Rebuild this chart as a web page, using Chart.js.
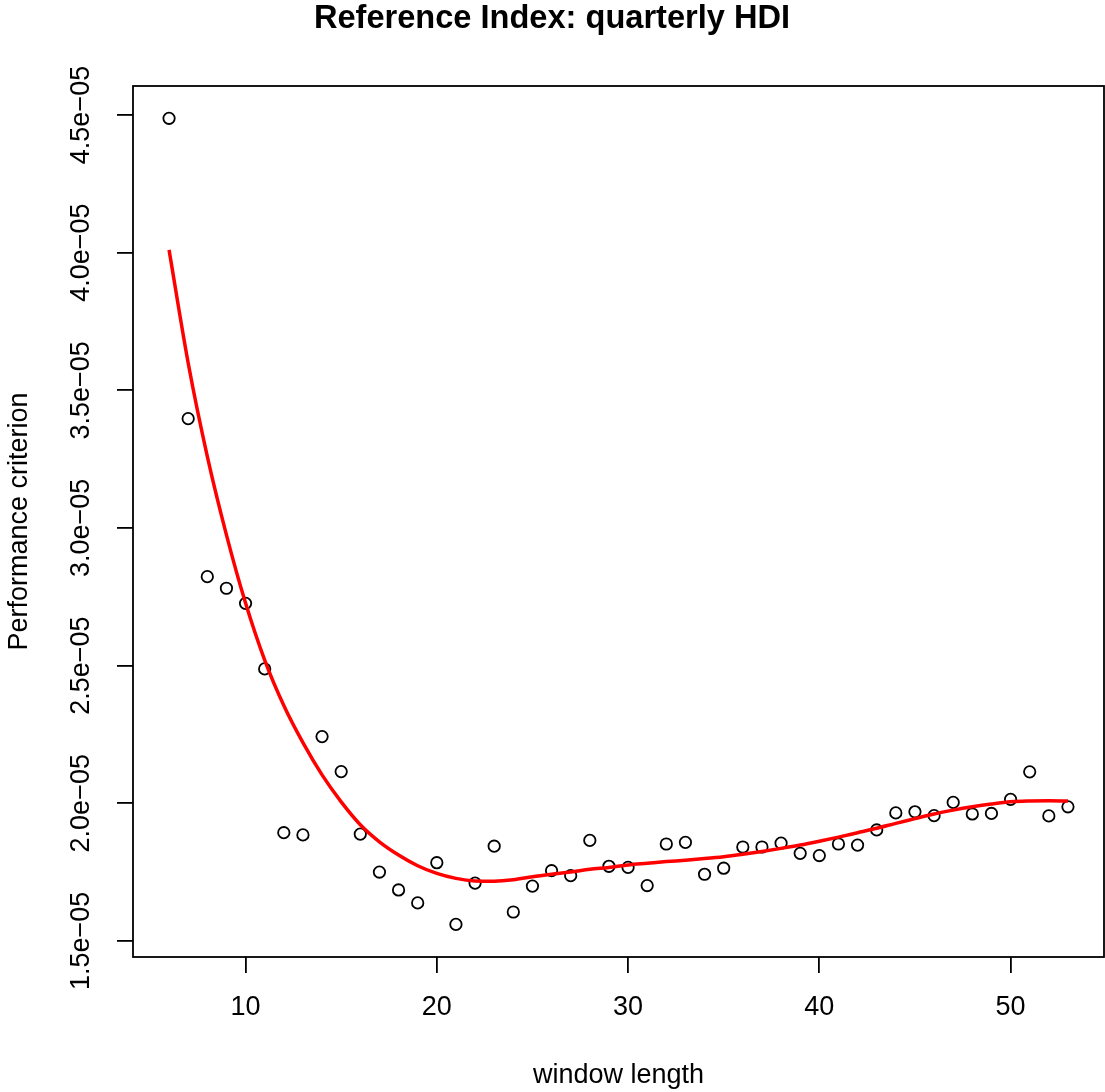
<!DOCTYPE html>
<html>
<head>
<meta charset="utf-8">
<script src="https://cdn.jsdelivr.net/npm/chart.js@4"></script>
<style>
  html, body { margin: 0; padding: 0; background: #fff; }
  canvas { display: block; }
</style>
</head>
<body>
<canvas id="myChart" width="1105" height="1092"></canvas>
<script>
// window lengths and the performance criterion
const windowLength = [6, 7, 8, 9, 10, 11, 12, 13, 14, 15, 16, 17, 18, 19, 20, 21, 22, 23, 24, 25, 26, 27, 28, 29,
  30, 31, 32, 33, 34, 35, 36, 37, 38, 39, 40, 41, 42, 43, 44, 45, 46, 47, 48, 49, 50, 51, 52, 53];
const criterion = [4.488e-5, 3.397e-5, 2.823e-5, 2.781e-5, 2.726e-5, 2.488e-5, 1.893e-5, 1.885e-5, 2.242e-5, 2.115e-5,
  1.888e-5, 1.750e-5, 1.685e-5, 1.638e-5, 1.784e-5, 1.560e-5, 1.710e-5, 1.844e-5, 1.605e-5, 1.699e-5,
  1.755e-5, 1.737e-5, 1.865e-5, 1.771e-5, 1.767e-5, 1.701e-5, 1.852e-5, 1.858e-5, 1.742e-5, 1.764e-5,
  1.841e-5, 1.841e-5, 1.855e-5, 1.818e-5, 1.810e-5, 1.852e-5, 1.848e-5, 1.903e-5, 1.965e-5, 1.969e-5,
  1.955e-5, 2.003e-5, 1.961e-5, 1.963e-5, 2.014e-5, 2.114e-5, 1.954e-5, 1.987e-5];
// red smoothed curve
const smoothFit = [4.010e-5, 3.599e-5, 3.260e-5, 2.975e-5, 2.727e-5, 2.520e-5, 2.355e-5, 2.220e-5, 2.103e-5, 2.005e-5,
  1.922e-5, 1.860e-5, 1.812e-5, 1.773e-5, 1.745e-5, 1.727e-5, 1.718e-5, 1.717e-5, 1.722e-5, 1.733e-5,
  1.742e-5, 1.750e-5, 1.760e-5, 1.767e-5, 1.776e-5, 1.782e-5, 1.788e-5, 1.793e-5, 1.799e-5, 1.806e-5,
  1.815e-5, 1.825e-5, 1.836e-5, 1.848e-5, 1.862e-5, 1.877e-5, 1.893e-5, 1.909e-5, 1.927e-5, 1.944e-5,
  1.961e-5, 1.975e-5, 1.987e-5, 1.997e-5, 2.005e-5, 2.008e-5, 2.009e-5, 2.008e-5];

const xTicks = [10, 20, 30, 40, 50];
const yTicks = [1.5e-5, 2.0e-5, 2.5e-5, 3.0e-5, 3.5e-5, 4.0e-5, 4.5e-5];
const yTickLabels = ['1.5e\u221205', '2.0e\u221205', '2.5e\u221205', '3.0e\u221205', '3.5e\u221205', '4.0e\u221205', '4.5e\u221205'];

const FONT = '"Liberation Sans", Arial, Helvetica, sans-serif';
Chart.defaults.font.family = FONT;
Chart.defaults.color = '#000';

// box around the plot region + rotated y tick labels, as R draws them
const rFrame = {
  id: 'rFrame',
  afterDraw(chart) {
    const ctx = chart.ctx;
    const a = chart.chartArea;
    const y = chart.scales.y;
    ctx.save();
    ctx.strokeStyle = '#000';
    ctx.lineWidth = 1.8;
    ctx.strokeRect(a.left, a.top, a.right - a.left, a.bottom - a.top);
    ctx.fillStyle = '#000';
    ctx.font = '27px ' + FONT;
    ctx.textAlign = 'center';
    ctx.textBaseline = 'middle';
    y.ticks.forEach((t, i) => {
      ctx.save();
      ctx.translate(a.left - 51, y.getPixelForValue(t.value));
      ctx.rotate(-Math.PI / 2);
      ctx.fillText(yTickLabels[i], 0, 0);
      ctx.restore();
    });
    ctx.restore();
  }
};

const tickGrid = {
  display: true,
  drawOnChartArea: false,
  drawTicks: true,
  tickLength: 16,
  tickColor: '#000',
  tickWidth: 1.8,
  color: '#000',
  lineWidth: 1.8
};

new Chart('myChart', {
  type: 'scatter',
  data: {
    datasets: [{
      type: 'line',
      data: windowLength.map((x, i) => ({ x: x, y: smoothFit[i] })),
      borderColor: '#ff0000',
      borderWidth: 3.5,
      pointRadius: 0,
      fill: false,
      cubicInterpolationMode: 'monotone',
      order: 0
    }, {
      data: windowLength.map((x, i) => ({ x: x, y: criterion[i] })),
      showLine: false,
      pointStyle: 'circle',
      pointRadius: 5.7,
      pointBorderWidth: 1.8,
      pointBorderColor: '#000',
      pointBackgroundColor: 'rgba(0,0,0,0)',
      order: 1
    }]
  },
  options: {
    responsive: false,
    animation: false,
    layout: { autoPadding: false, padding: { left: 0, right: 1, top: 0, bottom: 0 } },
    plugins: {
      legend: { display: false },
      tooltip: { enabled: false },
      title: {
        display: true,
        text: 'Reference Index: quarterly HDI',
        color: '#000',
        font: { size: 32.6, weight: 'bold', lineHeight: 1 },
        padding: { top: 3, bottom: 50.4 }
      }
    },
    scales: {
      x: {
        type: 'linear',
        min: 4.115,
        max: 54.885,
        afterBuildTicks: (scale) => { scale.ticks = xTicks.map(v => ({ value: v })); },
        afterFit: (scale) => { scale.height = 135; },
        grid: tickGrid,
        border: { display: false },
        ticks: {
          autoSkip: false,
          maxRotation: 0,
          minRotation: 0,
          padding: 18,
          color: '#000',
          font: { size: 27 }
        },
        title: {
          display: true,
          text: 'window length',
          color: '#000',
          font: { size: 27 },
          padding: { top: 0, bottom: 0 }
        }
      },
      y: {
        type: 'linear',
        min: 1.4415e-5,
        max: 4.6053e-5,
        afterBuildTicks: (scale) => { scale.ticks = yTicks.map(v => ({ value: v })); },
        afterFit: (scale) => { scale.width = 133; },
        grid: tickGrid,
        border: { display: false },
        ticks: { display: false },
        title: {
          display: true,
          text: 'Performance criterion',
          color: '#000',
          font: { size: 27 },
          padding: { top: 3, bottom: 0 }
        }
      }
    }
  },
  plugins: [rFrame]
});
</script>
</body>
</html>
